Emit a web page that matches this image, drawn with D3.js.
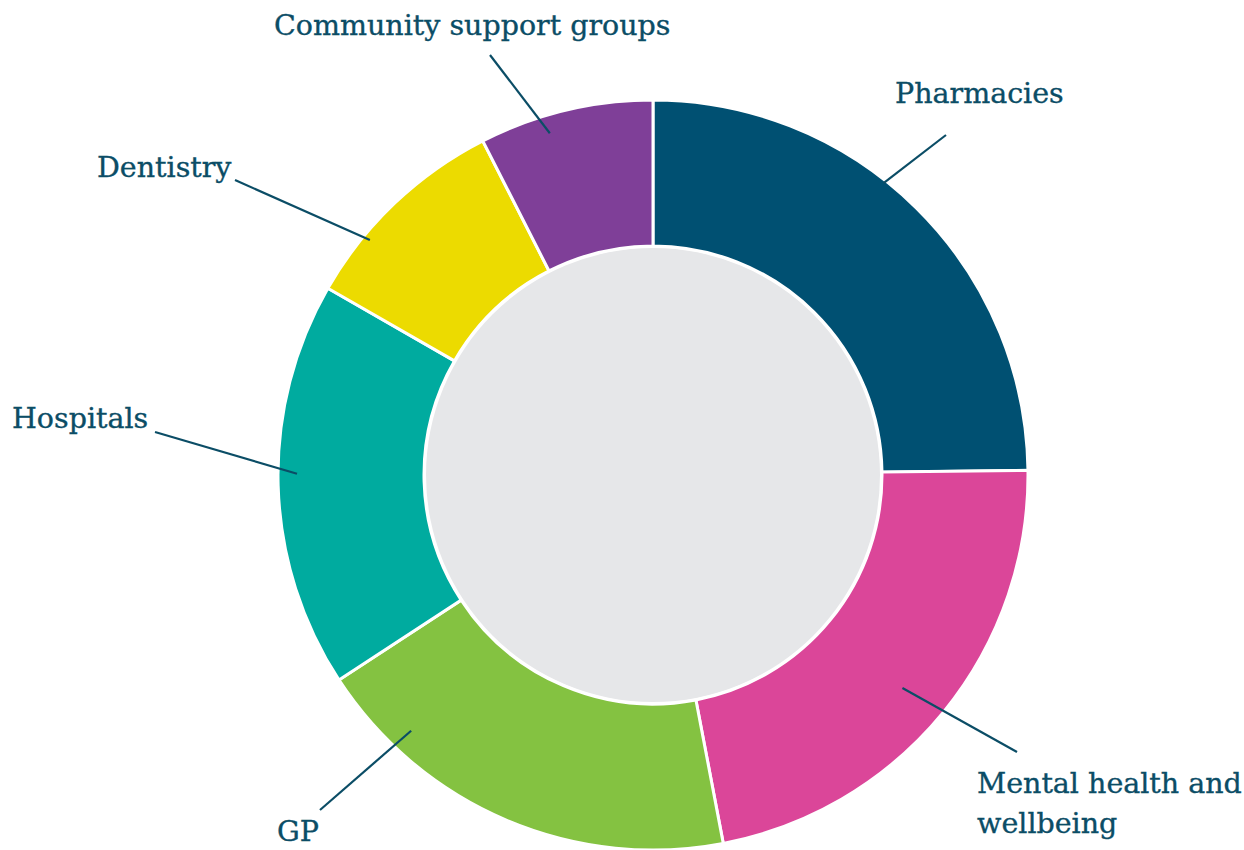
<!DOCTYPE html>
<html>
<head>
<meta charset="utf-8">
<script src="https://cdn.jsdelivr.net/npm/d3@7"></script>
<style>
  body { margin: 0; background: #fff; }
  text { font-family: "DejaVu Serif", serif; fill: #0b4d66; stroke: #0b4d66; stroke-width: 0.35px; }
</style>
</head>
<body>
<div id="chart"></div>
<script>
// slices, clockwise from 12 o'clock
var categories = ["Pharmacies", "Mental health and wellbeing", "GP", "Hospitals", "Dentistry", "Community support groups"]
var values = [24.8, 22.2, 18.8, 17.5, 9.2, 7.5]
var colours = ["#005072", "#db4699", "#84c241", "#00ab9f", "#ecdb00", "#7f3f98"]
// label lines (text split for wrapping)
var labelLines = [["Pharmacies"], ["Mental health and", "wellbeing"], ["GP"], ["Hospitals"], ["Dentistry"], ["Community support groups"]]

var w = 1244, h = 850
var cx = 653, cy = 475
var rOuter = 375, rInner = 229

var svg = d3.select("#chart").append("svg")
  .attr("width", w).attr("height", h)

var g = svg.append("g").attr("transform", "translate(" + cx + "," + cy + ")")

var data = categories.map((c, i) => ({name: c, value: values[i], colour: colours[i], lines: labelLines[i]}))

var pie = d3.pie().sort(null).value(d => d.value)
var arcs = pie(data)

var arc = d3.arc().innerRadius(rInner).outerRadius(rOuter)

g.append("circle").attr("r", rInner - 2).attr("fill", "#e6e7e9")

g.selectAll("path.slice")
  .data(arcs)
  .enter()
  .append("path")
  .attr("class", "slice")
  .attr("d", arc)
  .attr("fill", d => d.data.colour)
  .attr("stroke", "#fff")
  .attr("stroke-width", 3)

// label layout, relative to the centre: leader start (angle in degrees + radius),
// leader end, and text position
var labelPos = [
  {a: 38.3, r: 372, lx: 293, ly: -340, tx: 242, ty: -372},
  {a: 130.5, r: 328, lx: 364, ly: 277, tx: 324, ty: 318},
  {a: 223.4, r: 352, lx: -333, ly: 335, tx: -376, ty: 366},
  {a: 270.2, r: 356, lx: -498, ly: -43, tx: -641, ty: -47},
  {a: 309.7, r: 368, lx: -418, ly: -295, tx: -556, ty: -298},
  {a: 343.2, r: 357, lx: -163, ly: -420, tx: -379, ty: -440}
]

var pts = labelPos.map(p => {
  var ang = p.a * Math.PI / 180
  return [Math.sin(ang) * p.r, -Math.cos(ang) * p.r]
})

g.selectAll("line.leader")
  .data(arcs)
  .enter()
  .append("line")
  .attr("class", "leader")
  .attr("x1", (d, i) => pts[i][0])
  .attr("y1", (d, i) => pts[i][1])
  .attr("x2", (d, i) => labelPos[i].lx)
  .attr("y2", (d, i) => labelPos[i].ly)
  .attr("stroke", "#0b4d66")
  .attr("stroke-width", 2.2)

var labels = g.selectAll("text.label")
  .data(arcs)
  .enter()
  .append("text")
  .attr("class", "label")
  .attr("x", (d, i) => labelPos[i].tx)
  .attr("y", (d, i) => labelPos[i].ty)
  .style("font-size", "28.5px")

labels.selectAll("tspan")
  .data((d, i) => d.data.lines.map(t => ({t: t, x: labelPos[i].tx})))
  .enter()
  .append("tspan")
  .attr("x", d => d.x)
  .attr("dy", (d, j) => j == 0 ? 0 : 40)
  .text(d => d.t)
</script>
</body>
</html>
